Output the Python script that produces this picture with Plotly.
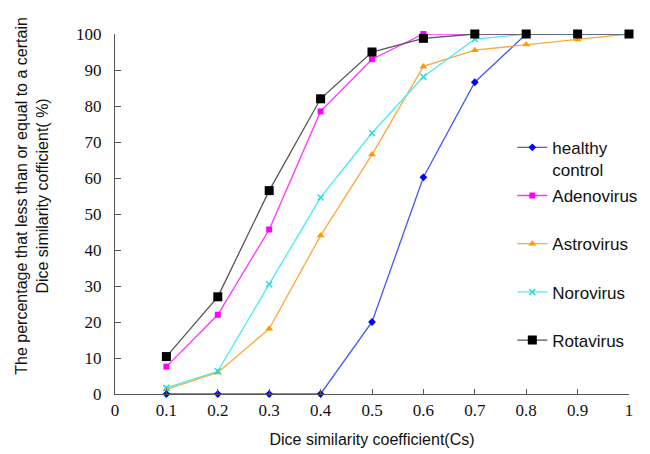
import plotly.graph_objects as go

cs = [0.1, 0.2, 0.3, 0.4, 0.5, 0.6, 0.7, 0.8, 0.9, 1.0]
healthy = [0, 0, 0, 0, 20, 60.2, 86.6, 100, 100, 100]
adeno = [7.6, 22, 45.7, 78.5, 93, 100, 100, 100, 100, 100]
astro = [1.3, 6, 18.1, 44, 66.5, 91, 95.5, 97.1, 98.5, 100]
noro = [1.7, 6.3, 30.5, 54.6, 72.5, 88.1, 98.6, 100, 100, 100]
rota = [10.4, 27, 56.5, 82, 95, 98.8, 100, 100, 100, 100]

names = ["healthy<br>control", "Adenovirus<br> ", "Astrovirus<br> ", "Norovirus<br> ", "Rotavirus<br> "]
x_ticks = [0, 0.1, 0.2, 0.3, 0.4, 0.5, 0.6, 0.7, 0.8, 0.9, 1]
x_tick_text = ["0", "0.1", "0.2", "0.3", "0.4", "0.5", "0.6", "0.7", "0.8", "0.9", "1"]
y_ticks = [0, 10, 20, 30, 40, 50, 60, 70, 80, 90, 100]

styles = [
    dict(line=dict(color="#4455ff", width=1.3), marker=dict(symbol="diamond", size=6, color="#0000ff")),
    dict(line=dict(color="#ff33ff", width=1.3), marker=dict(symbol="square", size=6, color="#ff00ff")),
    dict(line=dict(color="#ffa640", width=1.3), marker=dict(symbol="triangle-up", size=7, color="#ff9900")),
    dict(line=dict(color="#44eeee", width=1.3), marker=dict(symbol="x-thin", size=6, color="#22dddd",
                                                              line=dict(color="#22dddd", width=1.5))),
    dict(line=dict(color="#555555", width=1.3), marker=dict(symbol="square", size=9, color="#000000")),
]

fig = go.Figure()
for i, (nm, ys) in enumerate(zip(names, [healthy, adeno, astro, noro, rota])):
    fig.add_trace(go.Scatter(x=cs, y=ys, mode="lines+markers", name=nm,
                             legendgroup=str(i), cliponaxis=False, **styles[i]))

fig.update_layout(
    width=650, height=454,
    margin=dict(l=107, r=29, t=26, b=68),
    plot_bgcolor="white", paper_bgcolor="white",
    font=dict(family="Liberation Sans, Arial, sans-serif", color="#111111"),
    showlegend=True,
    legend=dict(x=0.773, y=0.734, xanchor="left", yanchor="top",
                font=dict(family="Liberation Sans, Arial, sans-serif", size=17, color="#111111"),
                tracegroupgap=1, valign="top", bgcolor="rgba(0,0,0,0)", itemwidth=30),
    xaxis=dict(range=[0, 1], tickvals=x_ticks, ticktext=x_tick_text, ticks="inside", ticklen=5,
               tickcolor="#555555", showline=True, linecolor="#555555", linewidth=1.3,
               showgrid=False, zeroline=False, automargin=False,
               tickfont=dict(family="Liberation Serif, Times New Roman, serif", size=17, color="#111111"),
               title=dict(text="Dice similarity coefficient(Cs)", standoff=15,
                          font=dict(family="Liberation Sans, Arial, sans-serif", size=16, color="#111111"))),
    yaxis=dict(range=[0, 100], tickvals=y_ticks, ticks="inside", ticklen=6,
               tickcolor="#555555", showline=True, linecolor="#555555", linewidth=1.3,
               showgrid=False, zeroline=False, ticklabelstandoff=9, automargin=False,
               tickfont=dict(family="Liberation Serif, Times New Roman, serif", size=17, color="#111111")),
    annotations=[dict(text="The percentage that less than or equal to a certain<br>Dice similarity cofficient( %)",
                      textangle=-90, xref="paper", yref="paper",
                      x=-0.162, y=0.55, xanchor="center", yanchor="middle", showarrow=False,
                      font=dict(family="Liberation Sans, Arial, sans-serif", size=16, color="#111111"))],
)

fig.write_html("out.html")
